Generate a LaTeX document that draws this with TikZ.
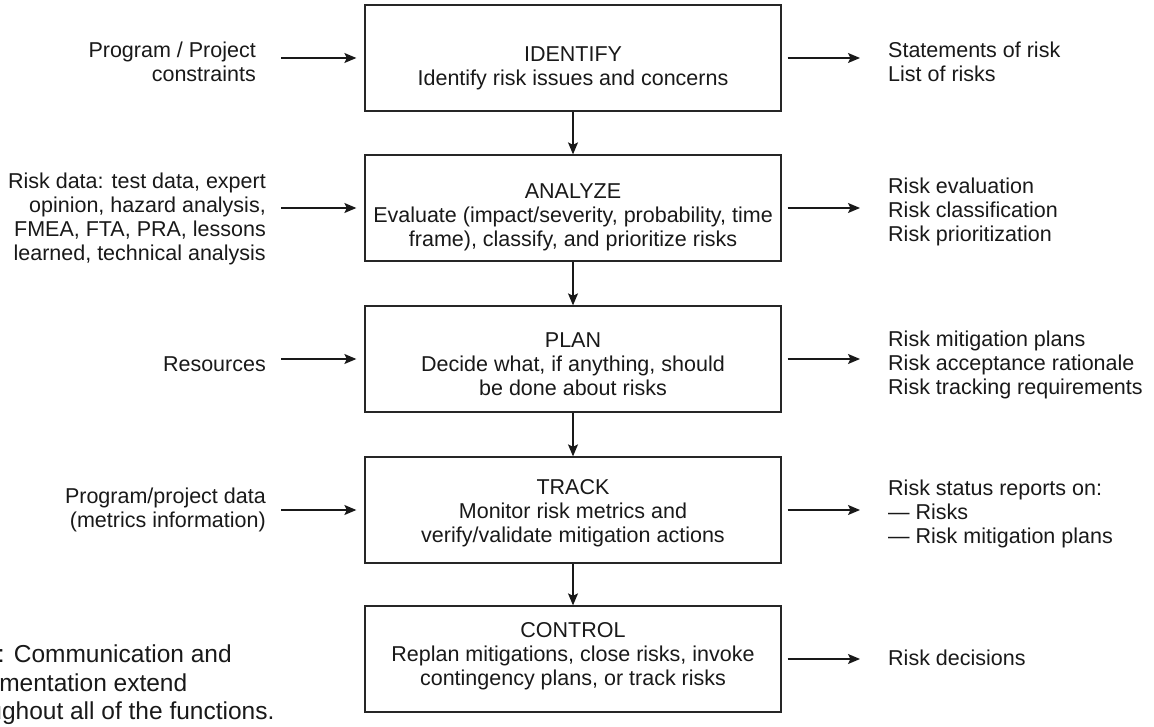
\documentclass[tikz,border=0pt]{standalone}
\usepackage{fontspec}
\setmainfont{Liberation Sans}
\usetikzlibrary{arrows.meta}
\begin{document}
\begin{tikzpicture}[x=1pt,y=-1pt,
  every node/.style={font=\fontsize{21.5}{24}\selectfont, inner sep=0pt, text=black!90},
  box/.style={draw=black!85, line width=1.3pt, minimum width=416pt, minimum height=106pt},
  boxtxt/.style={align=center},
  arr/.style={draw=black!90, line width=1.3pt, -{Stealth[length=12pt,width=10pt,inset=2.5pt]}},
  lefttxt/.style={anchor=east, align=right},
  righttxt/.style={anchor=west, align=left}]
\clip (0,0) rectangle (1154,727);
\fill[white] (0,0) rectangle (1154,727);
% process boxes
\node[box] (b1) at (573,58) {};
\node[box] (b2) at (573,208) {};
\node[box] (b3) at (573,359) {};
\node[box] (b4) at (573,510) {};
\node[box] (b5) at (573,659) {};
\node[boxtxt] (t1) at (573,68) {IDENTIFY\\Identify risk issues and concerns};
\node[boxtxt] (t2) at (573,217) {ANALYZE\\Evaluate (impact/severity, probability, time\\frame), classify, and prioritize risks};
\node[boxtxt] (t3) at (573,364) {PLAN\\Decide what, if anything, should\\be done about risks};
\node[boxtxt] (t4) at (573,513) {TRACK\\Monitor risk metrics and\\verify/validate mitigation actions};
\node[boxtxt] (t5) at (573,656) {CONTROL\\Replan mitigations, close risks, invoke\\contingency plans, or track risks};
\draw[arr] (b1) -- (b2);
\draw[arr] (b2) -- (b3);
\draw[arr] (b3) -- (b4);
\draw[arr] (b4) -- (b5);
% inputs
\node[lefttxt] (i1) at (256,62) {Program / Project\\constraints};
\node[lefttxt] (i2) at (266,219) {Risk data: test data, expert\\opinion, hazard analysis,\\FMEA, FTA, PRA, lessons\\learned, technical analysis};
\node[lefttxt] (i3) at (266,364) {Resources};
\node[lefttxt] (i4) at (266,510) {Program/project data\\(metrics information)};
\draw[arr, shorten <=25pt, shorten >=8pt] (b1.west -| i1.east) -- (b1.west);
\draw[arr, shorten <=15pt, shorten >=8pt] (b2.west -| i2.east) -- (b2.west);
\draw[arr, shorten <=15pt, shorten >=8pt] (b3.west -| i3.east) -- (b3.west);
\draw[arr, shorten <=15pt, shorten >=8pt] (b4.west -| i4.east) -- (b4.west);
% outputs
\node[righttxt] (o1) at (888,62) {Statements of risk\\List of risks};
\node[righttxt] (o2) at (888,212) {Risk evaluation\\Risk classification\\Risk prioritization};
\node[righttxt] (o3) at (888,365) {Risk mitigation plans\\Risk acceptance rationale\\Risk tracking requirements};
\node[righttxt] (o4) at (888,514) {Risk status reports on:\\— Risks\\— Risk mitigation plans};
\node[righttxt] (o5) at (888,658) {Risk decisions};
\draw[arr, shorten <=6pt, shorten >=28pt] (b1.east) -- (b1.east -| o1.west);
\draw[arr, shorten <=6pt, shorten >=28pt] (b2.east) -- (b2.east -| o2.west);
\draw[arr, shorten <=6pt, shorten >=28pt] (b3.east) -- (b3.east -| o3.west);
\draw[arr, shorten <=6pt, shorten >=28pt] (b4.east) -- (b4.east -| o4.west);
\draw[arr, shorten <=6pt, shorten >=28pt] (b5.east) -- (b5.east -| o5.west);
% note
\node[anchor=north west, align=left, font=\fontsize{24.5}{28.5}\selectfont] (note) at (-54,645) {Note: Communication and\\documentation extend\\throughout all of the functions.};
\end{tikzpicture}
\end{document}
